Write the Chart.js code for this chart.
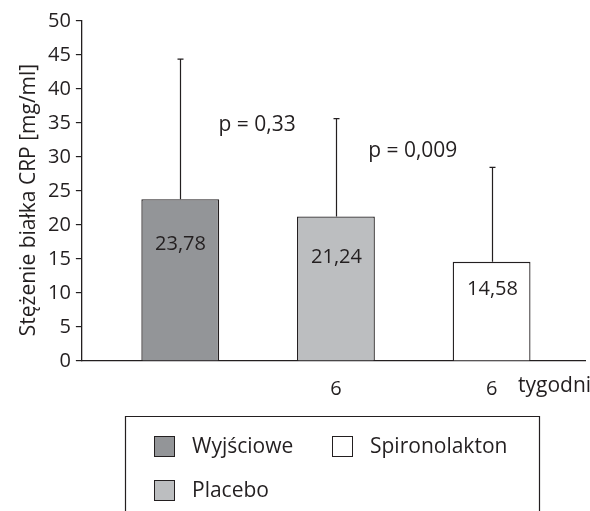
<!DOCTYPE html>
<html>
<head>
<meta charset="utf-8">
<script src="https://cdn.jsdelivr.net/npm/chart.js@4.4.0/dist/chart.umd.min.js"></script>
<style>
  html, body { margin: 0; padding: 0; background: #fff; }
  #wrap { width: 590px; height: 511px; position: relative; }
</style>
</head>
<body>
<div id="wrap"><canvas id="c"></canvas></div>
<script>
// data
const groups = ['Wyjściowe', 'Placebo', 'Spironolakton'];
const weekLabels = ['', '6', '6'];
const xPos = [1, 2, 3];
const means = [23.78, 21.24, 14.58];
const sd = [20.6, 14.4, 13.9];
const pLabels = ['p = 0,33', 'p = 0,009'];
const pLevels = [35, 31.2];
const unitLabel = 'tygodni';
const yTitle = 'Stężenie białka CRP [mg/ml]';
const barColors = ['#939598', '#bcbec0', '#ffffff'];

const INK = '#231f20';
const FONT = '"Open Sans", "Noto Sans", sans-serif';

Chart.defaults.font.family = FONT;
Chart.defaults.font.size = 20;
Chart.defaults.color = INK;

const fmt = v => v.toFixed(2).replace('.', ',');

const extras = {
    id: 'extras',
    afterDatasetsDraw(chart) {
        const ctx = chart.ctx;
        const xs = chart.scales.x, ys = chart.scales.y;
        ctx.save();
        ctx.strokeStyle = INK;
        ctx.fillStyle = INK;
        ctx.lineWidth = 1.2;
        ctx.textAlign = 'center';
        ctx.textBaseline = 'middle';
        means.forEach((m, i) => {
            const x = Math.round(xs.getPixelForValue(xPos[i])) + 0.5;
            const top = ys.getPixelForValue(m);
            const err = ys.getPixelForValue(m + sd[i]);
            const base = ys.getPixelForValue(0);
            // error bar (upper only)
            ctx.beginPath();
            ctx.moveTo(x, top);
            ctx.lineTo(x, err);
            ctx.moveTo(x - 3, err);
            ctx.lineTo(x + 3, err);
            ctx.stroke();
            // value inside bar
            ctx.font = '20px ' + FONT;
            ctx.fillText(fmt(m), x, top + 0.28 * (base - top));
        });
        // p values between bars
        ctx.font = '21px ' + FONT;
        pLabels.forEach((t, i) => {
            const x = (xs.getPixelForValue(xPos[i]) + xs.getPixelForValue(xPos[i + 1])) / 2;
            ctx.fillText(t, x - 1, ys.getPixelForValue(pLevels[i]) + 2);
        });
        // unit after last tick
        ctx.textAlign = 'left';
        ctx.fillText(unitLabel, 518, 386);

        // y axis title, centred a little below the middle like the figure
        ctx.save();
        ctx.translate(29, 200);
        ctx.rotate(-Math.PI / 2);
        ctx.textAlign = 'center';
        ctx.fillText(yTitle, 0, 0);
        ctx.restore();

        // legend box (bottom edge cut off in the figure)
        ctx.lineWidth = 1.2;
        ctx.beginPath();
        ctx.moveTo(125.5, 520);
        ctx.lineTo(125.5, 416.5);
        ctx.lineTo(539.5, 416.5);
        ctx.lineTo(539.5, 520);
        ctx.stroke();
        const items = [
            { x: 154, y: 436 },
            { x: 154, y: 480 },
            { x: 332, y: 436 }
        ];
        groups.forEach((g, i) => {
            const p = items[i];
            ctx.fillStyle = barColors[i];
            ctx.fillRect(p.x, p.y, 20, 20);
            ctx.strokeStyle = INK;
            ctx.lineWidth = 1;
            ctx.strokeRect(p.x + 0.5, p.y + 0.5, 20, 20);
            ctx.fillStyle = INK;
            ctx.fillText(g, p.x + 38, p.y + 11);
        });
        ctx.restore();
    }
};

new Chart(document.getElementById('c'), {
    type: 'bar',
    data: {
        datasets: [{
            data: xPos.map((x, i) => ({ x: x, y: means[i] })),
            backgroundColor: barColors,
            borderColor: INK,
            borderWidth: 1.3,
            barPercentage: 0.5,
            categoryPercentage: 1
        }]
    },
    options: {
        responsive: true,
        maintainAspectRatio: false,
        animation: false,
        layout: { padding: { top: 21, right: 5, left: 43, bottom: 94 } },
        plugins: { legend: { display: false }, tooltip: { enabled: false } },
        scales: {
            x: {
                type: 'linear',
                offset: false,
                min: 0.368,
                max: 3.6,
                afterBuildTicks: s => { s.ticks = xPos.map(v => ({ value: v })); },
                grid: { display: false, drawTicks: false },
                border: { color: INK, width: 1.3 },
                ticks: {
                    callback: (v, i) => weekLabels[i],
                    color: INK,
                    font: { family: FONT, size: 20 },
                    padding: 16,
                    autoSkip: false,
                    maxRotation: 0
                }
            },
            y: {
                min: 0,
                max: 50,
                grid: { drawOnChartArea: false, drawTicks: true, tickLength: 6, color: INK, lineWidth: 1.2 },
                border: { color: INK, width: 1.3 },
                ticks: {
                    stepSize: 5,
                    color: INK,
                    padding: 5,
                    font: { family: FONT, size: 20 }
                }
            }
        }
    },
    plugins: [extras]
});
</script>
</body>
</html>
